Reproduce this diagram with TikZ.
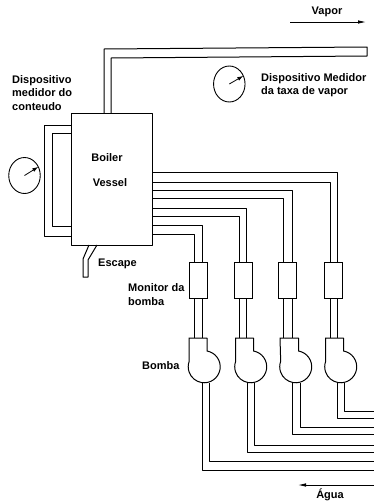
\documentclass[tikz,border=0pt]{standalone}
\usepackage{fontspec}
\setmainfont{Liberation Sans}
\usetikzlibrary{arrows.meta,shapes.geometric}
\tikzset{
  pipe/.style={line width=1pt,line join=round},
  flow/.style={line width=0.8pt,-{Latex[length=8pt,width=3.5pt]}},
  label/.style={font=\bfseries\fontsize{11}{13.2}\selectfont,align=left,anchor=west,inner sep=0pt},
  monitor/.style={draw,line width=0.9pt,minimum width=18pt,minimum height=36pt,inner sep=0pt,outer sep=0pt},
  gauge/.style={draw,ellipse,line width=0.9pt,minimum width=31.5pt,minimum height=36pt,inner sep=0pt,outer sep=0pt},
  needle/.style={line width=0.8pt,-{Latex[length=6pt,width=4pt]}}
}
\begin{document}
\begin{tikzpicture}[x=1pt,y=-1pt]
  \useasboundingbox (0,0) rectangle (374,501);
  \node[draw,pipe,minimum width=81.5pt,minimum height=131.5pt,inner sep=0pt,outer sep=0pt] (boiler) at (111.75,179.25) {};
  \node[label,anchor=center] (boilerA) at (107,158) {Boiler};
  \node[label,anchor=center] (boilerB) at (110,183) {Vessel};
  % vapor line and level loop
  \draw[pipe] (104,0 |- boiler.north) -- (104,49) -- (367,47) -- (367,56) -- (111,58) -- (111,0 |- boiler.north);
  \draw[pipe] (boiler.west |- 0,125) -- (44,125) -- (44,236) -- (boiler.west |- 0,236);
  \draw[pipe] (boiler.west |- 0,133) -- (52,133) -- (52,226) -- (boiler.west |- 0,226);
  \draw[pipe] (89,0 |- boiler.south) -- (83,259) -- (83,277) -- (88,277) -- (88,260) -- (97,0 |- boiler.south);
  \node[gauge] (gaugeA) at (24.5,175.5) {};
  \node[gauge] (gaugeB) at (229.3,84) {};
  \draw[needle] (gaugeA.center) -- (gaugeA.32);
  \draw[needle] (gaugeB.center) -- (gaugeB.30);
  % monitors, with the pipes from the boiler
  \foreach \n/\mx/\xa/\xb/\ya/\yb in {1/198/194/202/234/225,2/243/239/246/216/208,3/287.5/283/292/198/190,4/333.5/330/337/182/172.5}{
    \node[monitor] (mon\n) at (\mx,280.5) {};
    \draw[pipe] (boiler.east |- 0,\ya) -- (\xa,\ya) -- (\xa,0 |- mon\n.north);
    \draw[pipe] (boiler.east |- 0,\yb) -- (\xb,\yb) -- (\xb,0 |- mon\n.north);
    \draw[pipe] (\xa,0 |- mon\n.south) -- (\xa,338);
    \draw[pipe] (\xb,0 |- mon\n.south) -- (\xb,338);
  }
  % pumps and water lines
  \foreach \pl/\pr/\xc/\xd/\yc/\yd in {189/207/202/209.5/470/461,235.5/253.5/247/254/452/445,280/298.5/292.5/300/434/427,325.5/343.5/337.5/344/418.5/411}{
    \draw[pipe] (\pr,351) arc[start angle=-80,end angle=200,radius=16] -- (\pl,338) -- (\pr,338) -- cycle;
    \draw[pipe] (\xc,382.5) -- (\xc,\yc) -- (374,\yc);
    \draw[pipe] (\xd,382.5) -- (\xd,\yd) -- (374,\yd);
  }
  \coordinate (vaporA) at (290,22);
  \coordinate (vaporB) at (366,22);
  \coordinate (aguaA) at (374,485);
  \coordinate (aguaB) at (298,485);
  \draw[flow] (vaporA) -- (vaporB);
  \draw[flow] (aguaA) -- (aguaB);
  \node[label,anchor=center] (vapor) at (327,12) {Vapor};
  \node[label,anchor=center] (agua) at (330,495) {Água};
  \node[label] (conteudo) at (12,93) {Dispositivo\\medidor do\\conteudo};
  \node[label] (taxa) at (261,85.5) {Dispositivo Medidor\\da taxa de vapor};
  \node[label] (escape) at (98,264) {Escape};
  \node[label] (monitor) at (128,294.5) {Monitor da\\bomba};
  \node[label] (bomba) at (142,366) {Bomba};
\end{tikzpicture}
\end{document}
